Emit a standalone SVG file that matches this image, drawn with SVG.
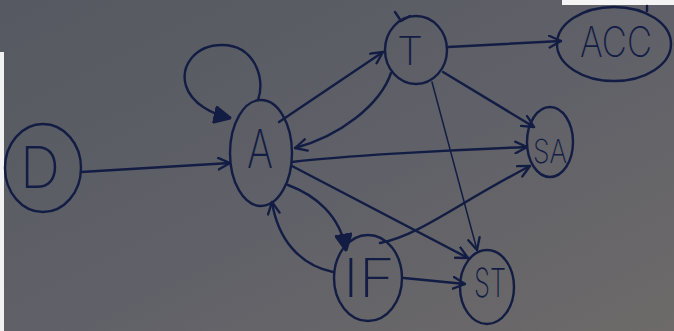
<svg xmlns="http://www.w3.org/2000/svg" width="674" height="331" viewBox="0 0 674 331">
<defs>
<linearGradient id="bg" x1="0" y1="0" x2="1" y2="1">
<stop offset="0" stop-color="#565961"/>
<stop offset="0.5" stop-color="#5f6068"/>
<stop offset="1" stop-color="#6d6a69"/>
</linearGradient>
<marker id="ah" viewBox="0 0 12 12" refX="11" refY="6" markerWidth="14" markerHeight="14" markerUnits="userSpaceOnUse" orient="auto">
<path d="M1,1 L11,6 L1,11" fill="none" stroke="#131d44" stroke-width="2" stroke-linecap="round" stroke-linejoin="round"/>
</marker>
<marker id="ahb" viewBox="0 0 12 12" refX="11" refY="6" markerWidth="18" markerHeight="18" markerUnits="userSpaceOnUse" orient="auto">
<path d="M1,1 L11,6 L1,11 Z" fill="#131d44" stroke="#131d44" stroke-width="2" stroke-linejoin="round"/>
</marker>
</defs>
<style>
.n{fill:none;stroke:#131d44;stroke-width:2.4}
.e{fill:none;stroke:#131d44;stroke-width:2.4;stroke-linecap:round}
.thin{stroke-width:1.5}
.t{fill:#131d44;font-family:Inter,"Open Sans","Liberation Sans",sans-serif;font-weight:200;text-anchor:middle}
</style>
<rect x="0" y="0" width="674" height="331" fill="url(#bg)"/>
<rect x="0" y="52" width="4" height="279" fill="#f2f2f2"/>
<rect x="562" y="0" width="112" height="5" fill="#f4f4f4"/>

<g id="connectors">
<path class="e" d="M81,172 L230,163" marker-end="url(#ah)"/>
<path class="e" d="M258,100 C266,78 254,45 222,45 C195,45 180,66 186,86 C192,104 212,114 230,118" marker-end="url(#ahb)"/>
<path class="e" d="M279,122 L383,52" marker-end="url(#ah)"/>
<path class="e" d="M391,73 C380,105 340,136 295,148" marker-end="url(#ah)"/>
<path class="e" d="M448,47 L561,41" marker-end="url(#ah)"/>
<path class="e" d="M443,72 L534,127" marker-end="url(#ah)"/>
<path class="e thin" d="M432,82 L477,250" marker-end="url(#ah)"/>
<path class="e" d="M292,162 C340,156 450,150 527,147" marker-end="url(#ah)"/>
<path class="e" d="M292,166 L468,258" marker-end="url(#ah)"/>
<path class="e" d="M288,185 C315,195 340,215 346,250" marker-end="url(#ahb)"/>
<path class="e" d="M333,272 C300,265 278,240 272,202" marker-end="url(#ah)"/>
<path class="e" d="M380,243 C420,235 455,205 530,166" marker-end="url(#ah)"/>
<path class="e" d="M404,278 L465,284" marker-end="url(#ah)"/>
<path class="e" d="M395,12 L401,21 L410,16"/>
<path class="e" d="M647,6 L647,11"/>
</g>

<g id="D"><ellipse class="n" cx="43" cy="168" rx="38" ry="44"/><text class="t" x="40" y="188" font-size="58" textLength="40" lengthAdjust="spacingAndGlyphs">D</text></g>
<g id="A"><ellipse class="n" cx="261" cy="153" rx="31" ry="53"/><text class="t" x="260" y="168" font-size="54" textLength="26" lengthAdjust="spacingAndGlyphs">A</text></g>
<g id="T"><ellipse class="n" cx="416" cy="50" rx="31" ry="34"/><text class="t" x="410" y="65" font-size="39" textLength="26" lengthAdjust="spacingAndGlyphs">T</text></g>
<g id="ACC"><ellipse class="n" cx="614" cy="44" rx="57" ry="37"/><text class="t" x="616" y="57" font-size="42" textLength="72" lengthAdjust="spacingAndGlyphs">ACC</text></g>
<g id="SA"><ellipse class="n" cx="550" cy="142" rx="23" ry="35"/><text class="t" x="550" y="163" font-size="33" textLength="34" lengthAdjust="spacingAndGlyphs">SA</text></g>
<g id="IF"><ellipse class="n" cx="368" cy="278" rx="34" ry="43"/><text class="t" x="369" y="297" font-size="54" textLength="52" lengthAdjust="spacingAndGlyphs">IF</text></g>
<g id="ST"><ellipse class="n" cx="487" cy="287" rx="27" ry="37"/><text class="t" x="490" y="297" font-size="40" textLength="32" lengthAdjust="spacingAndGlyphs">ST</text></g>
</svg>
